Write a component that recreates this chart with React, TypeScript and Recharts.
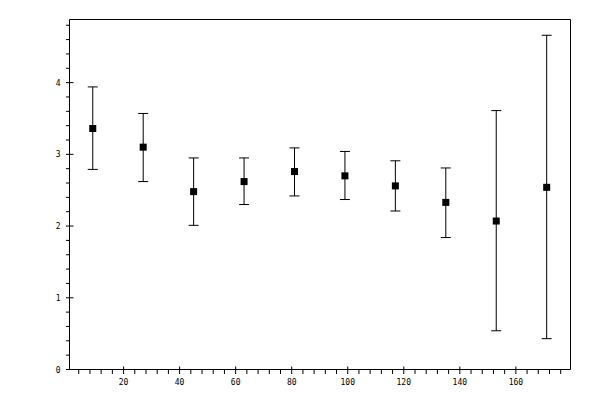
import React from "react";
import {
  ErrorBar,
  Scatter,
  ScatterChart,
  XAxis,
  YAxis,
} from "recharts";

// bin centres and measured means with their error bounds
const binCentres = [9, 27, 45, 63, 81, 99, 117, 135, 153, 171];
const means = [3.36, 3.1, 2.48, 2.62, 2.76, 2.7, 2.56, 2.33, 2.07, 2.54];
const upperBounds = [3.94, 3.57, 2.95, 2.95, 3.09, 3.04, 2.91, 2.81, 3.61, 4.66];
const lowerBounds = [2.79, 2.62, 2.01, 2.3, 2.42, 2.37, 2.21, 1.84, 0.54, 0.43];

const xTicks = [
  4, 8, 12, 16, 20, 24, 28, 32, 36, 40, 44, 48, 52, 56, 60, 64, 68, 72, 76, 80,
  84, 88, 92, 96, 100, 104, 108, 112, 116, 120, 124, 128, 132, 136, 140, 144,
  148, 152, 156, 160, 164, 168, 172, 176,
];
const xLabels = [20, 40, 60, 80, 100, 120, 140, 160];
const yTicks = [
  0, 0.2, 0.4, 0.6, 0.8, 1, 1.2, 1.4, 1.6, 1.8, 2, 2.2, 2.4, 2.6, 2.8, 3, 3.2,
  3.4, 3.6, 3.8, 4, 4.2, 4.4, 4.6, 4.8,
];
const yLabels = [0, 1, 2, 3, 4];

const data = binCentres.map((x, i) => ({
  x,
  y: means[i],
  err: [means[i] - lowerBounds[i], upperBounds[i] - means[i]],
}));

const FONT = "'DejaVu Sans Mono', monospace";
const isX = (v: number) => xLabels.includes(v);
const isY = (v: number) => yLabels.some((l) => Math.abs(l - v) < 1e-6);

const BottomTick = ({ x, y, payload }: any) => {
  const major = isX(payload.value);
  return (
    <g>
      <line x1={x} x2={x} y1={major ? y - 3 : y} y2={y + 4.5} stroke="#000" />
      {major && (
        <text x={x} y={y + 15} textAnchor="middle" fontFamily={FONT} fontSize={8} fill="#000">
          {payload.value}
        </text>
      )}
    </g>
  );
};

const TopTick = ({ x, y, payload }: any) => {
  const major = isX(payload.value);
  return <line x1={x} x2={x} y1={y - 3.5} y2={major ? y + 4 : y} stroke="#000" />;
};

const LeftTick = ({ x, y, payload }: any) => {
  const major = isY(payload.value);
  return (
    <g>
      <line x1={x - 3.5} x2={major ? x + 4 : x} y1={y} y2={y} stroke="#000" />
      {major && (
        <text x={x - 9} y={y + 3} textAnchor="end" fontFamily={FONT} fontSize={8} fill="#000">
          {Math.round(payload.value)}
        </text>
      )}
    </g>
  );
};

const RightTick = ({ x, y, payload }: any) => {
  const major = isY(payload.value);
  return <line x1={major ? x - 4 : x} x2={x + 4} y1={y} y2={y} stroke="#000" />;
};

const Square = ({ cx, cy }: any) => (
  <rect x={cx - 3.5} y={cy - 3.5} width={7} height={7} fill="#000" />
);

export default function App() {
  return (
    <div style={{ position: "absolute", left: 0, top: 0, background: "#fff" }}>
      <ScatterChart width={600} height={400} margin={{ top: 0, right: 0, bottom: 0, left: 0 }}>
        <XAxis
          xAxisId="b"
          type="number"
          dataKey="x"
          domain={[0.7, 179.5]}
          ticks={xTicks}
          interval={0}
          height={30.5}
          tickSize={0}
          tickMargin={0}
          tickLine={false}
          tick={BottomTick}
          axisLine={{ stroke: "#000" }}
        />
        <XAxis
          xAxisId="t"
          orientation="top"
          type="number"
          dataKey="x"
          domain={[0.7, 179.5]}
          ticks={xTicks}
          interval={0}
          height={19.5}
          tickSize={0}
          tickMargin={0}
          tickLine={false}
          tick={TopTick}
          axisLine={{ stroke: "#000" }}
        />
        <YAxis
          yAxisId="l"
          type="number"
          dataKey="y"
          domain={[0, 4.88]}
          ticks={yTicks}
          interval={0}
          width={69.5}
          tickSize={0}
          tickMargin={0}
          tickLine={false}
          tick={LeftTick}
          axisLine={{ stroke: "#000" }}
        />
        <YAxis
          yAxisId="r"
          orientation="right"
          type="number"
          dataKey="y"
          domain={[0, 4.88]}
          ticks={yTicks}
          interval={0}
          width={29.5}
          tickSize={0}
          tickMargin={0}
          tickLine={false}
          tick={RightTick}
          axisLine={{ stroke: "#000" }}
        />
        <Scatter
          data={data}
          xAxisId="b"
          yAxisId="l"
          shape={Square}
          isAnimationActive={false}
        >
          <ErrorBar dataKey="err" direction="y" width={5} stroke="#000" strokeWidth={1} />
        </Scatter>
      </ScatterChart>
    </div>
  );
}
